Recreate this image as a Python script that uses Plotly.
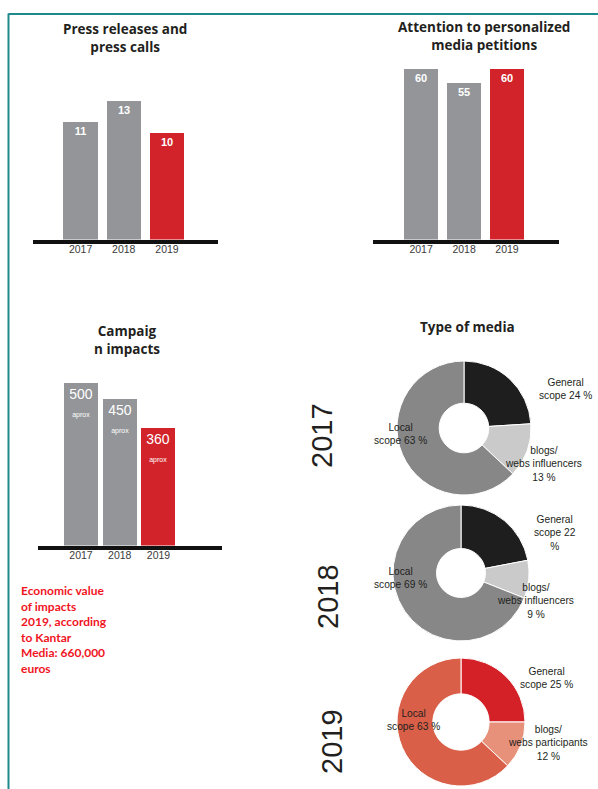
import plotly.graph_objects as go

# ---------------- data ----------------
years = ["2017", "2018", "2019"]
press_releases = [11, 13, 10]
media_petitions = [60, 55, 60]
campaign_impacts = [500, 450, 360]
impact_note = "aprox"

titles = ["Press releases and<br>press calls",
          "Attention to personalized<br>media petitions",
          "Campaig<br>n impacts",
          "Type of media"]

media_years = ["2017", "2018", "2019"]
media_cats = ["General scope", "blogs/webs", "Local scope"]
media_2017 = [24, 13, 63]
media_2018 = [22, 9, 69]
media_2019 = [25, 12, 63]
blog_names = ["influencers", "influencers", "participants"]

econ_text = ("Economic value<br>of impacts<br>2019, according<br>to Kantar<br>"
             "Media: 660,000<br>euros")

# ---------------- styling ----------------
W, H = 598, 789
GRAY, RED = "#939598", "#D2232A"
bar_colors = [GRAY, GRAY, RED]
pie_colors = [["#1E1E1E", "#CACACA", "#878787"],
              ["#1E1E1E", "#CACACA", "#878787"],
              ["#D42027", "#E8917A", "#DA5F48"]]
TXT = "#231F20"
ARIAL = "Liberation Sans, Arial, sans-serif"
TITLEF = "Open Sans, sans-serif"


def px(x):
    return x / W


def py(y):
    return 1 - y / H


fig = go.Figure()

# bar panels: (values, text, xaxis domain px, baseline px, top px, y max, x range, bar width, font size)
panels = [
    (press_releases, [f"<b>{v}</b>" for v in press_releases], (33, 218), 239.5, 90.0, 14,
     [-1.10, 3.18], 0.79, 11),
    (media_petitions, [f"<b>{v}</b>" for v in media_petitions], (373, 559), 239.5, 62.5, 62,
     [-1.12, 3.21], 0.79, 11),
    (campaign_impacts,
     [f"{v}<br><span style='font-size:7px'>{impact_note}</span>" for v in campaign_impacts],
     (38, 222), 545.5, 375.9, 520, [-1.11, 3.64], 0.877, 14),
]

for i, (vals, txt, (x0, x1), base, top, ymax, xr, bw, fs) in enumerate(panels, start=1):
    xa = "x" if i == 1 else f"x{i}"
    ya = "y" if i == 1 else f"y{i}"
    fig.add_trace(go.Bar(
        x=years, y=vals, text=txt, textposition="inside", insidetextanchor="end",
        textangle=0, constraintext="none",
        insidetextfont=dict(family=ARIAL, size=fs, color="white"),
        marker=dict(color=bar_colors, line=dict(width=0)), width=bw,
        xaxis=xa, yaxis=ya, showlegend=False, hoverinfo="x+y",
    ))
    xk = "xaxis" if i == 1 else f"xaxis{i}"
    yk = "yaxis" if i == 1 else f"yaxis{i}"
    fig.update_layout(**{
        xk: dict(domain=[px(x0), px(x1)], anchor=ya, type="category", range=xr,
                 showline=True, linecolor="#111111", linewidth=4, showgrid=False,
                 zeroline=False, ticks="", ticklabelstandoff=-3,
                 tickfont=dict(family=ARIAL, size=10.5, color="#3A3A3A"),
                 fixedrange=True),
        yk: dict(domain=[py(base), py(top)], anchor=xa, range=[0, ymax], visible=False,
                 fixedrange=True),
    })

# donuts: center px, radius px, hole
donuts = [
    (media_2017, (464, 428), 67, 0.37),
    (media_2018, (461, 573), 68, 0.36),
    (media_2019, (461, 722), 64, 0.44),
]
for (vals, (cx, cy), r, hole), cols in zip(donuts, pie_colors):
    fig.add_trace(go.Pie(
        labels=media_cats, values=vals, hole=hole, sort=False, direction="clockwise",
        rotation=0, textinfo="none", showlegend=False,
        marker=dict(colors=cols, line=dict(color="white", width=1)),
        domain=dict(x=[px(cx - r), px(cx + r)], y=[max(0, py(cy + r)), py(cy - r)]),
    ))

ann = []
# titles
for t, (x, y) in zip(titles, [(125, 37.5), (484, 36), (127, 339.5), (467, 327)]):
    ann.append(dict(text=f"<b>{t}</b>", x=px(x), y=py(y), xref="paper", yref="paper",
                    showarrow=False, xanchor="center", yanchor="middle",
                    font=dict(family=TITLEF, size=13.5, color=TXT)))

# donut year labels
for yr, (x, y) in zip(media_years, [(322, 436), (328, 597), (332, 742)]):
    ann.append(dict(text=yr, x=px(x), y=py(y), xref="paper", yref="paper", textangle=-90,
                    showarrow=False, xanchor="center", yanchor="middle",
                    font=dict(family=ARIAL, size=29, color=TXT)))

# donut slice labels
gen_tpl = ["General<br>scope {} %", "General<br>scope {}<br>%", "General<br>scope {} %"]
label_pos = [
    [(565, 389), (543, 464), (400, 434)],
    [(555, 533), (535, 601), (400, 577.5)],
    [(546, 678), (548, 743), (413, 719.5)],
]
for vals, tpl, bn, pos in zip([media_2017, media_2018, media_2019], gen_tpl, blog_names, label_pos):
    texts = [tpl.format(vals[0]),
             f"blogs/<br>webs {bn}<br>{vals[1]} %",
             f"Local<br>scope {vals[2]} %"]
    for t, (x, y) in zip(texts, pos):
        ann.append(dict(text=t, x=px(x), y=py(y), xref="paper", yref="paper",
                        showarrow=False, xanchor="center", yanchor="middle", align="center",
                        font=dict(family=ARIAL, size=10.2, color=TXT)))

# economic value note
ann.append(dict(text=f"<b>{econ_text}</b>", x=px(19), y=py(581), xref="paper", yref="paper",
                showarrow=False, xanchor="left", yanchor="top", align="left",
                font=dict(family="Lato, sans-serif", size=12, color="#F0141E")))

shapes = [
    dict(type="line", xref="paper", yref="paper", x0=px(8.5), x1=px(8.5), y0=py(13.5), y1=0,
         line=dict(color="#1E8A8C", width=2)),
    dict(type="line", xref="paper", yref="paper", x0=px(8.5), x1=1, y0=py(14), y1=py(14),
         line=dict(color="#1E8A8C", width=2)),
]

fig.update_layout(width=W, height=H, margin=dict(l=0, r=0, t=0, b=0),
                  paper_bgcolor="white", plot_bgcolor="white",
                  annotations=ann, shapes=shapes, bargap=0)

fig.write_html("out.html", config={"displayModeBar": False},
               post_script="document.body.style.margin='0';document.body.style.overflow='hidden';")
